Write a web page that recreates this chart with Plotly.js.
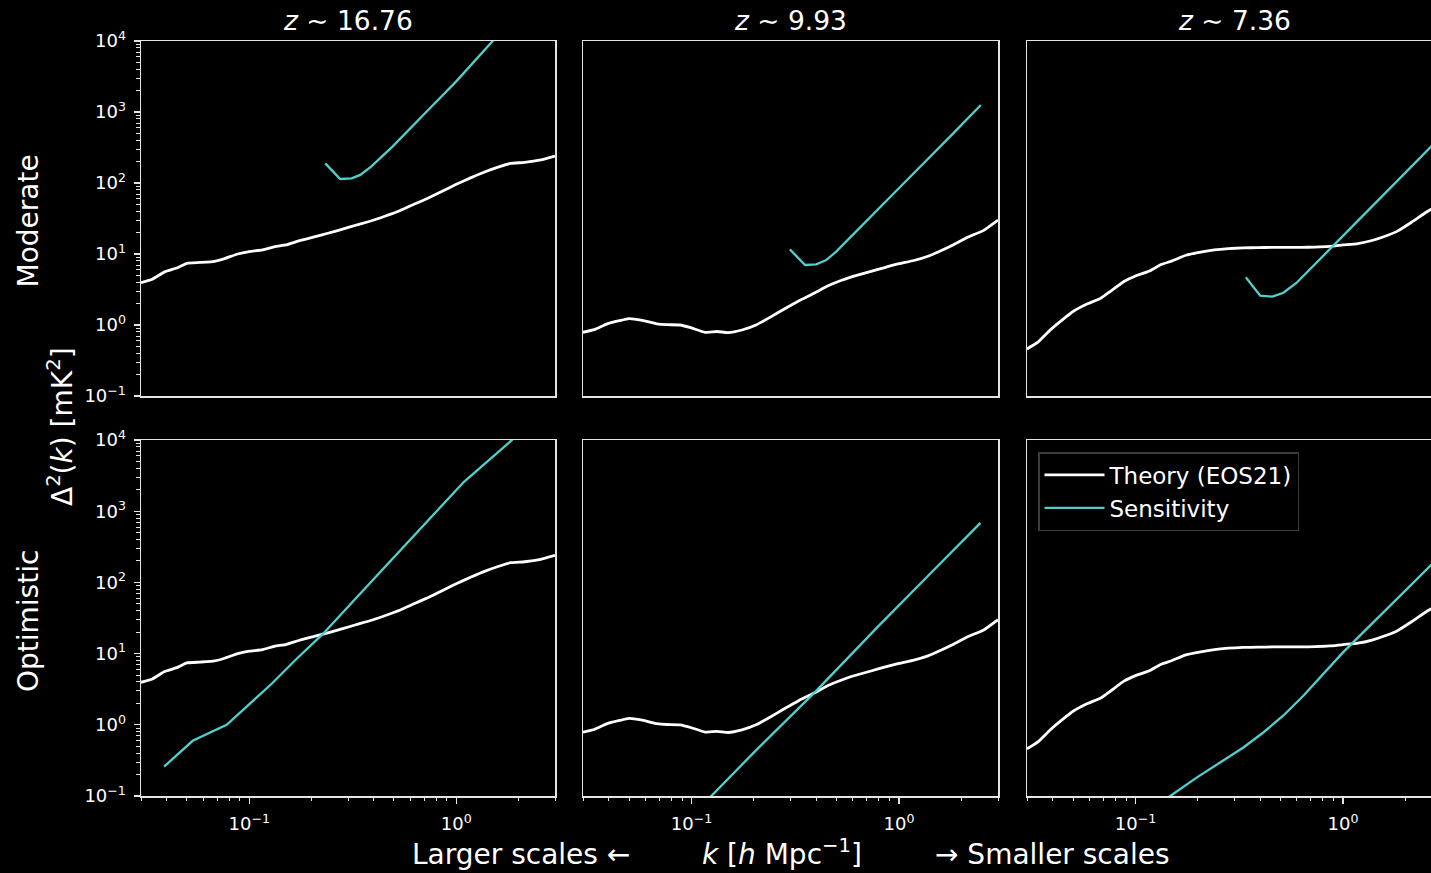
<!DOCTYPE html>
<html><head><meta charset="utf-8">
<script src="https://cdn.plot.ly/plotly-3.0.1.min.js"></script>
<style>
html,body{margin:0;padding:0;background:#000;overflow:hidden;width:1431px;height:873px}
#plot{width:1460px;height:873px}
</style>
</head><body><div id="plot"></div>
<script>
// ---- data ----
const kTheory = [0.030, 0.034, 0.039, 0.045, 0.050, 0.058, 0.068, 0.076, 0.088, 0.100, 0.116, 0.133, 0.150, 0.175, 0.206, 0.240, 0.280, 0.330, 0.390, 0.455, 0.533, 0.625, 0.733, 0.860, 1.00, 1.18, 1.38, 1.62, 1.83, 2.14, 2.56, 3.00];
const theoryZ1676 = [3.95, 4.4, 5.6, 6.4, 7.4, 7.6, 7.9, 8.6, 10.0, 10.8, 11.4, 12.7, 13.4, 15.4, 17.4, 19.6, 22.2, 25.6, 29.4, 34.3, 40.7, 50.1, 61.5, 77.1, 95.8, 119, 144, 170, 189, 195, 211, 240];
const theoryZ993 = [0.79, 0.86, 1.03, 1.15, 1.23, 1.16, 1.04, 1.01, 1.0, 0.91, 0.79, 0.81, 0.78, 0.85, 1.01, 1.29, 1.68, 2.2, 2.8, 3.56, 4.3, 5.0, 5.7, 6.5, 7.3, 8.1, 9.3, 11.4, 13.5, 17.2, 21.5, 30];
const theoryZ736 = [0.46, 0.58, 0.86, 1.22, 1.55, 1.96, 2.38, 3.0, 4.1, 4.9, 5.7, 7.1, 8.0, 9.6, 10.6, 11.4, 11.9, 12.2, 12.3, 12.4, 12.4, 12.4, 12.5, 12.8, 13.4, 14.0, 15.5, 18.1, 21, 28, 40, 52];

const kSensModZ1676 = [0.233, 0.275, 0.312, 0.344, 0.388, 0.492, 0.73, 1.0, 1.5, 2.0, 2.48];
const sensModZ1676 = [189, 114, 116, 130, 170, 325, 1060, 2700, 10000, 23000, 45000];
const kSensModZ993 = [0.298, 0.353, 0.399, 0.446, 0.498, 0.577, 0.8, 1.2, 1.8, 2.48];
const sensModZ993 = [11.6, 7.0, 7.15, 8.2, 10.8, 16.6, 44, 145, 480, 1256];
const kSensModZ736 = [0.340, 0.399, 0.457, 0.516, 0.598, 0.694, 1.0, 1.5, 2.0, 2.8];
const sensModZ736 = [4.7, 2.59, 2.51, 2.85, 3.94, 6.1, 17.9, 60, 140, 380];

const kSensOptZ1676 = [0.0388, 0.0533, 0.0778, 0.1007, 0.128, 0.169, 0.227, 0.331, 0.492, 0.732, 1.09, 1.86, 2.48];
const sensOptZ1676 = [0.259, 0.596, 1.0, 1.95, 3.74, 8.4, 18.9, 62, 215, 747, 2590, 10000, 23700];
const kSensOptZ993 = [0.11, 0.1245, 0.2, 0.399, 0.8, 1.5, 2.47];
const sensOptZ993 = [0.069, 0.1, 0.41, 3.0, 24.7, 158, 685];
const kSensOptZ736 = [0.13, 0.147, 0.197, 0.265, 0.331, 0.413, 0.515, 0.644, 0.804, 1.0, 1.16, 1.45, 1.81, 2.65, 2.8];
const sensOptZ736 = [0.079, 0.1, 0.181, 0.311, 0.48, 0.78, 1.34, 2.56, 5.2, 10.4, 16, 30.5, 58, 173, 203];

const redshifts = ['16.76', '9.93', '7.36'];
const rowLabels = ['Moderate', 'Optimistic'];
const seriesNames = ['Theory (EOS21)', 'Sensitivity'];
const yTickVals = [0.1, 1, 10, 100, 1000, 10000];
const yTickText = ['10<sup>−1</sup>', '10<sup>0</sup>', '10<sup>1</sup>', '10<sup>2</sup>', '10<sup>3</sup>', '10<sup>4</sup>'];
const xTickVals = [0.1, 1];
const xTickText = ['10<sup>−1</sup>', '10<sup>0</sup>'];

// ---- layout helpers ----
const W = 1460, H = 873;
const colPx = [[141, 555], [583, 998], [1027, 1442]];
const rowPx = [[41, 396], [440, 796]];
const FONT = 'DejaVu Sans, Noto Sans, sans-serif';
const AX = '#e4e4e4';
const CYAN = '#50cfcc';

const theory = [theoryZ1676, theoryZ993, theoryZ736];
const sens = [
  [[kSensModZ1676, sensModZ1676], [kSensModZ993, sensModZ993], [kSensModZ736, sensModZ736]],
  [[kSensOptZ1676, sensOptZ1676], [kSensOptZ993, sensOptZ993], [kSensOptZ736, sensOptZ736]]
];

const xMinor = [0.03];
for (const d of [0.01, 0.1, 1]) for (let m = 2; m <= 9; m++) { const v = +(m * d).toFixed(3); if (v > 0.03 && v <= 3) xMinor.push(v); }
const yMinor = [];
for (const d of [0.1, 1, 10, 100, 1000]) for (let m = 2; m <= 9; m++) yMinor.push(+(m * d).toFixed(3));

const traces = [];
const layout = {
  width: W, height: H,
  margin: {l: 0, r: 0, t: 0, b: 0},
  paper_bgcolor: '#000', plot_bgcolor: '#000',
  font: {family: FONT, color: '#ffffff'},
  showlegend: true,
  legend: {
    x: 1038 / W, y: 1 - 452 / H, xanchor: 'left', yanchor: 'top',
    bgcolor: '#000', bordercolor: '#3c3c3c', borderwidth: 1.5,
    font: {family: FONT, size: 23, color: '#ffffff'},
    itemwidth: 60
  },
  annotations: []
};

for (let r = 0; r < 2; r++) {
  for (let c = 0; c < 3; c++) {
    const i = r * 3 + c + 1;
    const sx = i === 1 ? '' : String(i);
    traces.push({
      x: kTheory, y: theory[c], type: 'scatter', mode: 'lines',
      name: seriesNames[0], showlegend: i === 1, legendrank: 1,
      line: {color: '#ffffff', width: 2.8, shape: 'spline', smoothing: 0.4},
      xaxis: 'x' + sx, yaxis: 'y' + sx, hoverinfo: 'skip'
    });
    traces.push({
      x: sens[r][c][0], y: sens[r][c][1], type: 'scatter', mode: 'lines',
      name: seriesNames[1], showlegend: i === 1, legendrank: 2,
      line: {color: CYAN, width: 2.3},
      xaxis: 'x' + sx, yaxis: 'y' + sx, hoverinfo: 'skip'
    });
    const bottom = r === 1, left = c === 0;
    layout['xaxis' + sx] = {
      type: 'log', range: [Math.log10(0.03), Math.log10(3)],
      domain: [colPx[c][0] / W, colPx[c][1] / W], anchor: 'y' + sx,
      showline: true, linecolor: AX, linewidth: 1.5, mirror: true,
      showgrid: false, zeroline: false, fixedrange: true,
      tickmode: 'array', tickvals: xTickVals, ticktext: xTickText,
      showticklabels: bottom, ticks: bottom ? 'outside' : '',
      ticklen: 6, tickwidth: 1.3, tickcolor: AX, ticklabelstandoff: 5,
      tickfont: {family: FONT, size: 18, color: '#ffffff'},
      minor: bottom ? {tickmode: 'array', tickvals: xMinor, ticks: 'outside', ticklen: 3.5, tickwidth: 1, tickcolor: AX, showgrid: false} : {ticks: '', showgrid: false}
    };
    layout['yaxis' + sx] = {
      type: 'log', range: [-1, 4],
      domain: [1 - rowPx[r][1] / H, 1 - rowPx[r][0] / H], anchor: 'x' + sx,
      showline: true, linecolor: AX, linewidth: 1.5, mirror: true,
      showgrid: false, zeroline: false, fixedrange: true,
      tickmode: 'array', tickvals: yTickVals, ticktext: yTickText,
      showticklabels: left, ticks: left ? 'outside' : '',
      ticklen: 6, tickwidth: 1.3, tickcolor: AX, ticklabelstandoff: 4,
      tickfont: {family: FONT, size: 18, color: '#ffffff'},
      minor: left ? {tickmode: 'array', tickvals: yMinor, ticks: 'outside', ticklen: 3.5, tickwidth: 1, tickcolor: AX, showgrid: false} : {ticks: '', showgrid: false}
    };
  }
}

// column titles
for (let c = 0; c < 3; c++) {
  layout.annotations.push({
    xref: 'paper', yref: 'paper', x: (colPx[c][0] + colPx[c][1]) / 2 / W, y: 1 - 20 / H,
    xanchor: 'center', yanchor: 'middle', showarrow: false,
    text: '<i>z</i> ∼ ' + redshifts[c], font: {family: FONT, size: 26.5, color: '#ffffff'}
  });
}
// row labels
for (let r = 0; r < 2; r++) {
  layout.annotations.push({
    xref: 'paper', yref: 'paper', x: 28 / W, y: 1 - ((rowPx[r][0] + rowPx[r][1]) / 2 + 3) / H,
    xanchor: 'center', yanchor: 'middle', showarrow: false, textangle: -90,
    text: rowLabels[r], font: {family: FONT, size: 28, color: '#ffffff'}
  });
}
// shared y label
layout.annotations.push({
  xref: 'paper', yref: 'paper', x: 60 / W, y: 1 - 427 / H,
  xanchor: 'center', yanchor: 'middle', showarrow: false, textangle: -90,
  text: 'Δ<sup>2</sup>(<i>k</i>) [mK<sup>2</sup>]', font: {family: FONT, size: 28, color: '#ffffff'}
});
// shared x label (three parts), bottom-anchored to stay inside the page
const xLabelParts = [['Larger scales ←', 521], ['<i>k</i> [<i>h</i> Mpc<sup>−1</sup>]', 782], ['→ Smaller scales', 1052]];
for (const [t, px] of xLabelParts) {
  layout.annotations.push({
    xref: 'paper', yref: 'paper', x: px / W, y: 0,
    xanchor: 'center', yanchor: 'bottom', showarrow: false,
    text: t, font: {family: FONT, size: 28, color: '#ffffff'}
  });
}

Plotly.newPlot('plot', traces, layout, {displayModeBar: false, staticPlot: true});
</script>
</body></html>
